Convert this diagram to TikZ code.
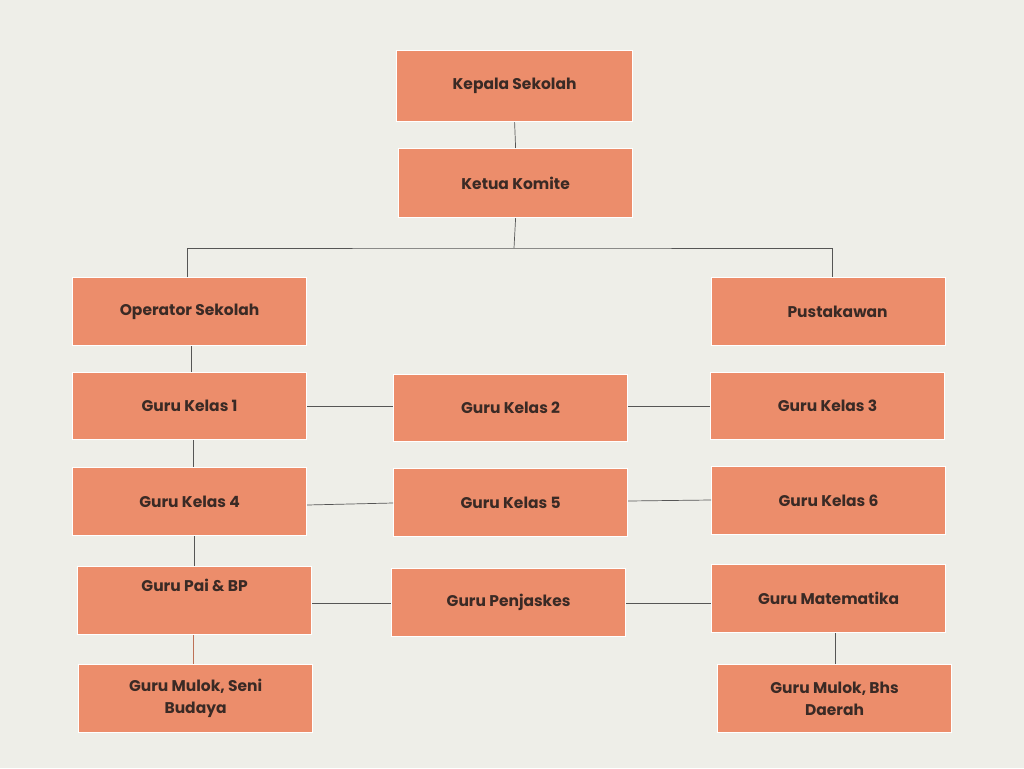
\documentclass[tikz,border=0pt]{standalone}
\usepackage{fontspec}
\setmainfont{Poppins}
\begin{document}
\begin{tikzpicture}[x=1pt,y=-1pt,
  box/.style={draw=white,line width=1.2pt,fill=boxc,minimum width=234pt,minimum height=68pt,inner sep=0pt,
    font=\bfseries\fontsize{15.5}{22}\selectfont,text=txtc,align=center,anchor=north west},
  ln/.style={draw=linec,line width=0.7pt}]
\definecolor{boxc}{HTML}{EC8D6B}
\definecolor{txtc}{HTML}{3A2A25}
\definecolor{bgc}{HTML}{EEEEE8}
\definecolor{linec}{HTML}{555555}
\fill[bgc] (0,0) rectangle (1024,768);
\useasboundingbox (0,0) rectangle (1024,768);
\node[box,minimum width=236pt,minimum height=71pt] (kep) at (396,50) {Kepala Sekolah};
\node[box,minimum height=69pt] (kom) at (398,148) {Ketua Komite};
\node[box] (op) at (72,277) {Operator Sekolah};
\node[box] (pus) at (711,277) {\hspace{18pt}Pustakawan};
\node[box,minimum height=67pt] (k1) at (72,372) {Guru Kelas 1};
\node[box,minimum height=67pt] (k2) at (393,374) {Guru Kelas 2};
\node[box,minimum height=67pt] (k3) at (710,372) {Guru Kelas 3};
\node[box] (k4) at (72,467) {Guru Kelas 4};
\node[box] (k5) at (393,468) {Guru Kelas 5};
\node[box] (k6) at (711,466) {Guru Kelas 6};
\node[box] (pai) at (77,566) {Guru Pai \& BP\\[8pt]};
\node[box] (pen) at (391,568) {Guru Penjaskes};
\node[box] (mat) at (711,564) {Guru Matematika};
\node[box] (ms) at (78,664) {Guru Mulok, Seni\\Budaya};
\node[box] (mb) at (717,664) {Guru Mulok, Bhs\\Daerah};
\coordinate (bar) at (514,248);
\draw[ln] (kep.south) -- (kom.north);
\draw[ln] (kom.south) -- (bar);
\draw[ln] (op.north -| 187,0) |- (bar) -| (pus.north -| 832,0);
\draw[ln] (op.south -| 191,0) -- (k1.north -| 191,0);
\draw[ln] (k1.south -| 193,0) -- (k4.north -| 193,0);
\draw[ln] (k4.south -| 194,0) -- (pai.north -| 194,0);
\draw[draw=boxc!80!black,line width=0.7pt] (pai.south -| 193,0) -- (ms.north -| 193,0);
\draw[ln] (mat.south -| 835,0) -- (mb.north -| 835,0);
\draw[ln] (k1.east |- 0,406) -- (k2.west |- 0,406);
\draw[ln] (k2.east |- 0,406) -- (k3.west |- 0,406);
\draw[ln] (k4.east |- 0,505) -- (k5.west |- 0,503);
\draw[ln] (k5.east |- 0,501) -- (k6.west |- 0,500);
\draw[ln] (pai.east |- 0,603) -- (pen.west |- 0,603);
\draw[ln] (pen.east |- 0,603) -- (mat.west |- 0,603);
\end{tikzpicture}
\end{document}
